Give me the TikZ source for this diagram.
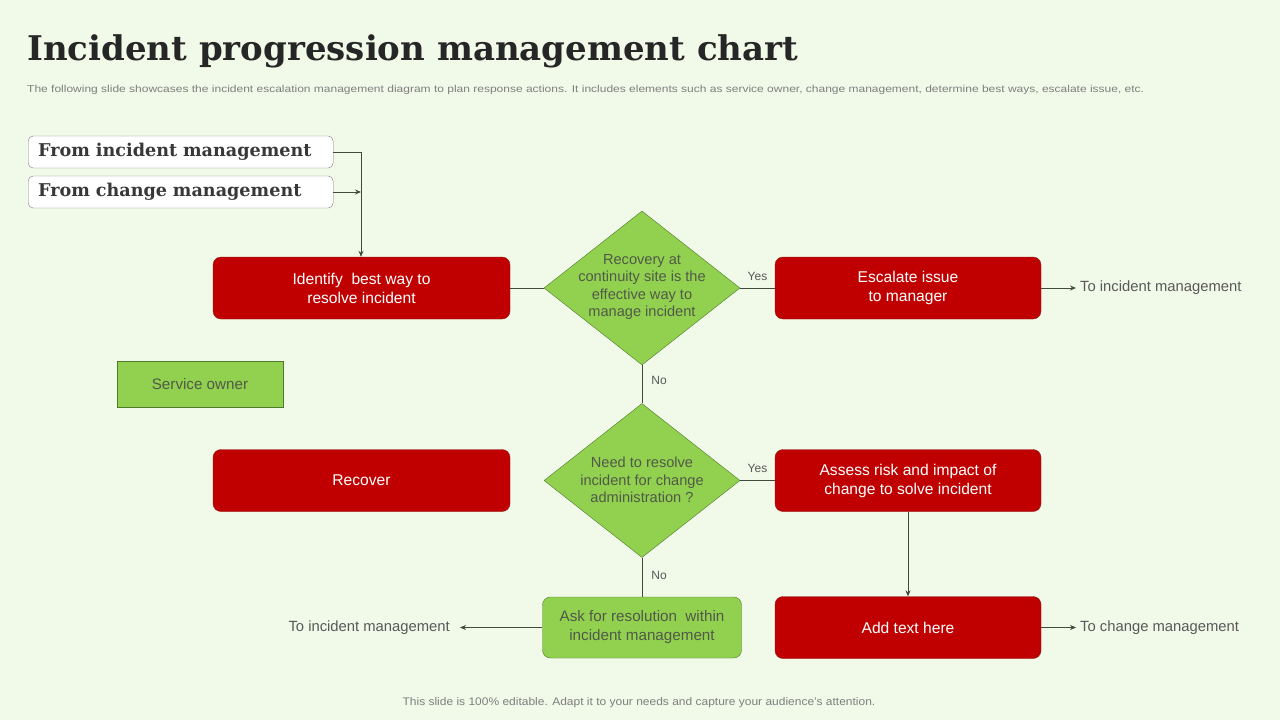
\documentclass[tikz,border=0pt]{standalone}
\usepackage{fontspec}
\usepackage{graphicx}
\setmainfont{Liberation Sans}
\newfontfamily\titlefont{DejaVu Serif}
\usetikzlibrary{shapes.geometric,arrows.meta}
\definecolor{bgc}{HTML}{F1F9E9}
\definecolor{redf}{HTML}{C00000}
\definecolor{redb}{HTML}{8E1B1B}
\definecolor{grnf}{HTML}{92D050}
\definecolor{grnb}{HTML}{4E7A2A}
\definecolor{linec}{HTML}{3F4A3A}
\definecolor{txtg}{HTML}{505A48}
\definecolor{subg}{HTML}{7F7F7F}
\tikzset{
  redbox/.style={draw=redb, fill=redf, rounded corners=8pt, minimum width=297pt, minimum height=62pt, text=white, align=center, font=\fontsize{15.6}{19}\selectfont, inner sep=0pt},
  redboxs/.style={redbox, minimum width=266pt},
  dia/.style={diamond, draw=grnb, fill=grnf, minimum width=196pt, minimum height=154pt, inner sep=0pt},
  diatext/.style={text=txtg, align=center, font=\fontsize{14.6}{17.5}\selectfont, inner sep=0pt},
  whitebox/.style={draw=subg, fill=white, rounded corners=5pt, minimum height=32pt, text width=285pt, inner xsep=10pt, inner ysep=0pt, anchor=west, align=left, font=\titlefont\bfseries\fontsize{17.6}{20}\selectfont, text=black!78},
  conn/.style={draw=linec, line width=0.8pt},
  arr/.style={conn, -{Stealth[length=6pt,width=5pt]}},
  lab/.style={text=black!65, font=\fontsize{12}{14}\selectfont, inner sep=0pt},
  outtxt/.style={text=black!65, font=\fontsize{14.8}{17}\selectfont, inner sep=0pt},
}
\begin{document}
\begin{tikzpicture}[x=1pt,y=-1pt]
\fill[bgc] (0,0) rectangle (1280,720);
\useasboundingbox (0,0) rectangle (1280,720);
\node[anchor=base west, inner sep=0pt, text=black!85, font=\titlefont\bfseries\fontsize{34}{40}\selectfont] (title) at (27,60) {Incident progression management chart};
\node[anchor=base west, inner sep=0pt, text=subg, font=\fontsize{10}{11}\selectfont] (sub) at (27,92) {\scalebox{1.2}[1]{The following slide showcases the incident escalation management diagram to plan response actions. It includes elements such as service owner, change management, determine best ways, escalate issue, etc.}};
% input boxes
\node[whitebox] (fim) at (28,152) {From incident management};
\node[whitebox] (fcm) at (28,192) {From change management};
\coordinate (j1) at (361,152);
\coordinate (j2) at (361,192);
% main nodes
\node[redbox] (ident) at (361.5,288) {Identify\ \ best way to\\ resolve incident};
\node[dia] (d1) at (642,288) {};
\node[diatext] (d1t) at (642,287) {Recovery at\\ continuity site is the\\ effective way to\\ manage incident};
\node[redboxs] (esc) at (908,288) {Escalate issue\\ to manager};
\node[draw=grnb, fill=grnf, minimum width=166pt, minimum height=46pt, inner sep=0pt, text=txtg, font=\fontsize{15.2}{18}\selectfont] (svc) at (200,384) {Service owner};
\node[dia] (d2) at (642,480.5) {};
\node[diatext] (d2t) at (642,480) {Need to resolve\\ incident for change\\ administration ?};
\node[redbox] (rec) at (361.5,480.5) {Recover};
\node[redboxs] (assess) at (908,480.5) {Assess risk and impact of\\ change to solve incident};
\node[redboxs] (add) at (908,627.5) {Add text here};
\node[draw=grnb, fill=grnf, rounded corners=8pt, minimum width=199pt, minimum height=61pt, inner sep=0pt, text=txtg, align=center, font=\fontsize{15.2}{19}\selectfont] (ask) at (642,627.5) {Ask for resolution\ \ within\\ incident management};
% outside texts
\node[outtxt, anchor=west] (out1) at (1080,288) {To incident management};
\node[outtxt, anchor=west] (out2) at (1080,627.5) {To change management};
\node[outtxt, anchor=east] (out3) at (450,627.5) {To incident management};
% connectors
\draw[conn] (fim.east) -- (j1) -- (j2);
\draw[arr] (j2) -- (ident.north -| j2);
\draw[arr] (fcm.east) -- (j2);
\draw[conn] (ident.east) -- (d1.west);
\draw[conn] (d1.east) -- node[lab, above=7pt] (y1) {Yes} (esc.west);
\draw[arr] (esc.east) -- ([xshift=-4pt]out1.west);
\draw[conn] (d1.south) -- node[lab, right=9pt, pos=0.4] (n1) {No} (d2.north);
\draw[conn] (d2.east) -- node[lab, above=7pt] (y2) {Yes} (assess.west);
\draw[arr] (assess.south) -- (add.north);
\draw[arr] (add.east) -- ([xshift=-4pt]out2.west);
\draw[conn] (d2.south) -- node[lab, right=9pt, pos=0.45] (n2) {No} (ask.north);
\draw[arr] (ask.west) -- ([xshift=10pt]out3.east);
% footer
\node[text=subg, font=\fontsize{11}{13}\selectfont, inner sep=0pt] (foot) at (639,703) {\scalebox{1.09}[1]{This slide is 100\% editable. Adapt it to your needs and capture your audience's attention.}};
\end{tikzpicture}
\end{document}
